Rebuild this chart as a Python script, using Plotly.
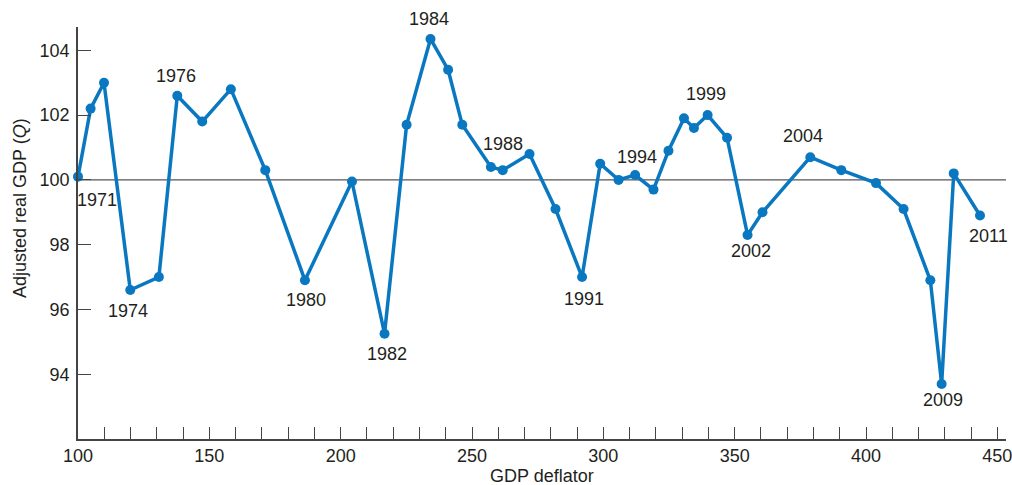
import plotly.graph_objects as go

# GDP deflator (x) and adjusted real GDP (y)
deflator = [100.0, 104.8, 109.9, 119.9, 130.8, 137.8, 147.3, 158.2, 171.3, 186.4,
            204.3, 216.7, 225.1, 234.2, 240.9, 246.3, 257.2, 261.7, 271.9, 281.8,
            291.9, 298.8, 305.8, 312.1, 319.1, 324.8, 330.7, 334.5, 339.7, 347.1,
            354.9, 360.6, 378.8, 390.6, 403.8, 414.3, 424.5, 428.8, 433.4, 443.4]
real_gdp = [100.1, 102.2, 103.0, 96.6, 97.0, 102.6, 101.8, 102.8, 100.3, 96.9,
            99.95, 95.25, 101.7, 104.35, 103.4, 101.7, 100.4, 100.3, 100.8, 99.1,
            97.0, 100.5, 100.0, 100.15, 99.7, 100.9, 101.9, 101.6, 102.0, 101.3,
            98.3, 99.0, 100.7, 100.3, 99.9, 99.1, 96.9, 93.7, 100.2, 98.9]

# year labels and the index of the point they belong to
label_text = ["1971", "1974", "1976", "1980", "1982", "1984", "1988", "1991",
              "1994", "1999", "2002", "2004", "2009", "2011"]
label_point = [0, 3, 5, 9, 11, 13, 17, 20, 23, 28, 30, 32, 37, 39]

x_ticks = [100, 150, 200, 250, 300, 350, 400, 450]
y_ticks = [94, 96, 98, 100, 102, 104]

# pixel offsets for labels (dx, dy) – positive dy = upward
offsets = [(19, -23), (-2, -21), (-1, 20), (1, -20), (2, -20), (-2, 20), (0, 26),
           (2, -22), (2, 18), (-2, 21), (3, -16), (-7, 21), (1, -16), (8, -20)]

BLUE = "#0a78c0"
TXT = "#231f20"
AX = "#444444"
FONT = "Liberation Sans, Arial, sans-serif"
FS = 18

fig = go.Figure()
fig.add_trace(go.Scatter(
    x=deflator, y=real_gdp, mode="lines+markers",
    line=dict(color=BLUE, width=3.5),
    marker=dict(color=BLUE, size=10),
    hoverinfo="skip", showlegend=False, cliponaxis=False,
))

fig.add_shape(type="line", xref="paper", x0=0, x1=1, yref="y", y0=100, y1=100,
              line=dict(color="#555555", width=1.2), layer="below")

for t, i, (dx, dy) in zip(label_text, label_point, offsets):
    fig.add_annotation(x=deflator[i], y=real_gdp[i], text=t, showarrow=False,
                       xshift=dx, yshift=dy,
                       font=dict(family=FONT, size=FS, color=TXT))

# axis titles
fig.add_annotation(xref="paper", yref="paper", x=0.5, y=0, yanchor="middle",
                   yshift=-37, text="GDP deflator", showarrow=False,
                   font=dict(family=FONT, size=FS, color=TXT))
fig.add_annotation(xref="paper", yref="paper", x=0, y=0.5, xanchor="center",
                   yanchor="middle", xshift=-58, yshift=25, textangle=-90,
                   text="Adjusted real GDP (<i>Q</i>)", showarrow=False,
                   font=dict(family=FONT, size=FS, color=TXT))

fig.update_layout(
    width=1012, height=485,
    margin=dict(l=78, r=6, t=27, b=46, autoexpand=False),
    paper_bgcolor="white", plot_bgcolor="white",
    font=dict(family=FONT, size=FS, color=TXT),
)
fig.update_xaxes(
    range=[100, 453.3], tickvals=x_ticks, ticktext=[str(v) for v in x_ticks],
    showgrid=False, zeroline=False, showline=True, linecolor=AX, linewidth=1.5,
    ticks="inside", ticklen=12, tickcolor=AX, tickwidth=1.2,
    minor=dict(ticks="inside", dtick=10, tick0=100, ticklen=12, tickcolor=AX,
               tickwidth=1.2, showgrid=False),
    automargin=False, tickfont=dict(size=FS), ticklabeloverflow="allow",
)
fig.update_yaxes(
    range=[92.0, 104.72], tickvals=y_ticks, ticktext=[str(v) for v in y_ticks],
    showgrid=False, zeroline=False, showline=True, linecolor=AX, linewidth=1.5,
    ticks="inside", ticklen=13, tickcolor=AX, tickwidth=1.2,
    automargin=False, tickfont=dict(size=FS), ticklabelstandoff=3,
    ticklabeloverflow="allow",
)

fig.write_html("out.html", config={"displayModeBar": False},
               post_script="document.body.style.margin='0';document.body.style.overflow='hidden';")
